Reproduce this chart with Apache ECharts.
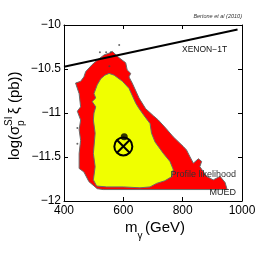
<!DOCTYPE html>
<html><head><meta charset="utf-8">
<script src="https://cdn.jsdelivr.net/npm/echarts@6/dist/echarts.min.js"></script>
<style>html,body{margin:0;padding:0;background:#fff}#c{width:266px;height:266px}</style>
</head><body><div id="c"></div>
<script>
const xTicks = [400, 600, 800, 1000];
const yTicks = [-12, -11.5, -11, -10.5, -10];
const redMass = [563,585,608,613,625,619,630,653,675,701,718,745,768,802,813,825,836,853,864,858,881,903,926,943,950,532,512,484,467,451,451,456,451,456,445,456,451,439,456,467,473,495,512,535,552];
const redLog  = [-10.30,-10.37,-10.43,-10.51,-10.55,-10.59,-10.66,-10.83,-10.95,-11.03,-11.08,-11.18,-11.27,-11.38,-11.42,-11.50,-11.57,-11.52,-11.55,-11.61,-11.72,-11.76,-11.72,-11.79,-11.87,-11.87,-11.86,-11.78,-11.67,-11.63,-11.46,-11.31,-11.19,-11.08,-10.98,-10.93,-10.78,-10.66,-10.64,-10.59,-10.53,-10.45,-10.40,-10.34,-10.32];
const yellowMass = [552,569,597,619,630,642,653,670,690,695,707,735,757,768,765,740,712,690,656,600,544,510,499,505,499,505,499,501,507,495,507,501,512,524,538];
const yellowLog  = [-10.55,-10.57,-10.64,-10.72,-10.80,-10.89,-10.95,-11.03,-11.12,-11.23,-11.33,-11.46,-11.55,-11.64,-11.72,-11.77,-11.80,-11.84,-11.85,-11.84,-11.84,-11.83,-11.76,-11.61,-11.46,-11.23,-11.08,-11.00,-10.93,-10.87,-10.83,-10.78,-10.68,-10.61,-10.57];
const xenonMass = [400, 985];
const xenonLog = [-10.475, -10.05];
const bestFitMass = [603];
const bestFitLog = [-11.27];
const meanMass = [600];
const meanLog = [-11.38];
const dotMass = [521, 542, 558, 586, 553, 445, 445];
const dotLog = [-10.31, -10.31, -10.31, -10.227, -10.47, -11.17, -11.35];

const FONT = '"Liberation Sans", Arial, sans-serif';
const fmt = v => String(v).replace('-', '\u2212');

function polySeries(mass, logv, color) {
  return {
    type: 'custom', xAxisIndex: 0, yAxisIndex: 0, silent: true, clip: true,
    data: [[mass[0], logv[0]]],
    renderItem: (params, api) => ({
      type: 'polygon',
      shape: { points: mass.map((m, i) => api.coord([m, logv[i]])) },
      style: { fill: color, stroke: '#6a6a6a', lineWidth: 1 }
    })
  };
}

const chart = echarts.init(document.getElementById('c'), null, { renderer: 'canvas' });
const axisCommon = {
  axisLine: { show: true, onZero: false, lineStyle: { color: '#000', width: 1 } },
  axisTick: { show: true, inside: true, length: 4, lineStyle: { color: '#000' } },
  splitLine: { show: false }
};
chart.setOption({
  animation: false,
  backgroundColor: '#fff',
  grid: { left: 64, right: 24, top: 25, bottom: 65, containLabel: false },
  xAxis: [
    Object.assign({ type: 'value', min: xTicks[0], max: xTicks[xTicks.length - 1], interval: 200, position: 'bottom',
      axisLabel: { color: '#000', fontSize: 12, fontFamily: FONT, margin: 4, formatter: fmt } }, axisCommon),
    Object.assign({ type: 'value', min: xTicks[0], max: xTicks[xTicks.length - 1], interval: 200, position: 'top',
      axisLabel: { show: false } }, axisCommon)
  ],
  yAxis: [
    Object.assign({ type: 'value', min: yTicks[0], max: yTicks[yTicks.length - 1], interval: 0.5, position: 'left',
      axisLabel: { color: '#000', fontSize: 12, fontFamily: FONT, margin: 3, formatter: fmt } }, axisCommon),
    Object.assign({ type: 'value', min: yTicks[0], max: yTicks[yTicks.length - 1], interval: 0.5, position: 'right',
      axisLabel: { show: false } }, axisCommon)
  ],
  series: [
    polySeries(redMass, redLog, '#ff0000'),
    polySeries(yellowMass, yellowLog, '#f0ff00'),
    {
      type: 'line', xAxisIndex: 0, yAxisIndex: 0, symbol: 'none', silent: true,
      data: xenonMass.map((m, i) => [m, xenonLog[i]]),
      lineStyle: { color: '#000', width: 2 }
    },
    {
      type: 'scatter', symbol: 'circle', symbolSize: 2, silent: true,
      data: dotMass.map((m, i) => [m, dotLog[i]]),
      itemStyle: { color: '#444' }
    },
    {
      type: 'scatter', symbol: 'circle', symbolSize: 7, silent: true,
      data: bestFitMass.map((m, i) => [m, bestFitLog[i]]),
      itemStyle: { color: '#000' }
    },
    {
      type: 'custom', silent: true,
      data: meanMass.map((m, i) => [m, meanLog[i]]),
      renderItem: (params, api) => {
        const p = api.coord([api.value(0), api.value(1)]);
        const r = 9, d = r * 0.7071;
        const st = { stroke: '#000', lineWidth: 2, fill: null };
        return { type: 'group', children: [
          { type: 'circle', shape: { cx: p[0], cy: p[1], r: r }, style: { stroke: '#000', lineWidth: 2, fill: 'rgba(0,0,0,0)' } },
          { type: 'line', shape: { x1: p[0] - d, y1: p[1] - d, x2: p[0] + d, y2: p[1] + d }, style: st },
          { type: 'line', shape: { x1: p[0] - d, y1: p[1] + d, x2: p[0] + d, y2: p[1] - d }, style: st }
        ] };
      }
    }
  ],
  graphic: [
    { type: 'text', x: 242, y: 16, style: { text: 'Bertone et al (2010)', font: 'italic 5.5px ' + FONT, fill: '#333', textAlign: 'right', textVerticalAlign: 'middle' } },
    { type: 'text', x: 182, y: 50, style: { text: 'XENON\u22121T', font: '8.5px ' + FONT, fill: '#111', textAlign: 'left', textVerticalAlign: 'middle' } },
    { type: 'text', x: 236, y: 175, z: 100, style: { text: 'Profile likelihood', font: '9px ' + FONT, fill: '#333', textAlign: 'right', textVerticalAlign: 'middle' } },
    { type: 'text', x: 236, y: 193, z: 100, style: { text: 'MUED', font: '9px ' + FONT, fill: '#222', textAlign: 'right', textVerticalAlign: 'middle' } },
    { type: 'text', x: 125, y: 228, style: { text: 'm', font: '15px ' + FONT, fill: '#000', textAlign: 'left', textVerticalAlign: 'middle' } },
    { type: 'text', x: 137.5, y: 236, style: { text: '\u03b3', font: '10px ' + FONT, fill: '#000', textAlign: 'left', textVerticalAlign: 'middle' } },
    { type: 'text', x: 145, y: 228, style: { text: '(GeV)', font: '15px ' + FONT, fill: '#000', textAlign: 'left', textVerticalAlign: 'middle' } },
    { type: 'group', x: 15, y: 160, rotation: Math.PI / 2, children: [
      { type: 'text', x: 0, y: 0, style: { text: 'log(\u03c3', font: '15px ' + FONT, fill: '#000', textAlign: 'left', textVerticalAlign: 'middle' } },
      { type: 'text', x: 34, y: -6, style: { text: 'SI', font: '10px ' + FONT, fill: '#000', textAlign: 'left', textVerticalAlign: 'middle' } },
      { type: 'text', x: 34, y: 6, style: { text: 'p', font: '10px ' + FONT, fill: '#000', textAlign: 'left', textVerticalAlign: 'middle' } },
      { type: 'text', x: 46, y: 0, style: { text: '\u03be (pb))', font: '15px ' + FONT, fill: '#000', textAlign: 'left', textVerticalAlign: 'middle' } }
    ] }
  ]
});
</script>
</body></html>
